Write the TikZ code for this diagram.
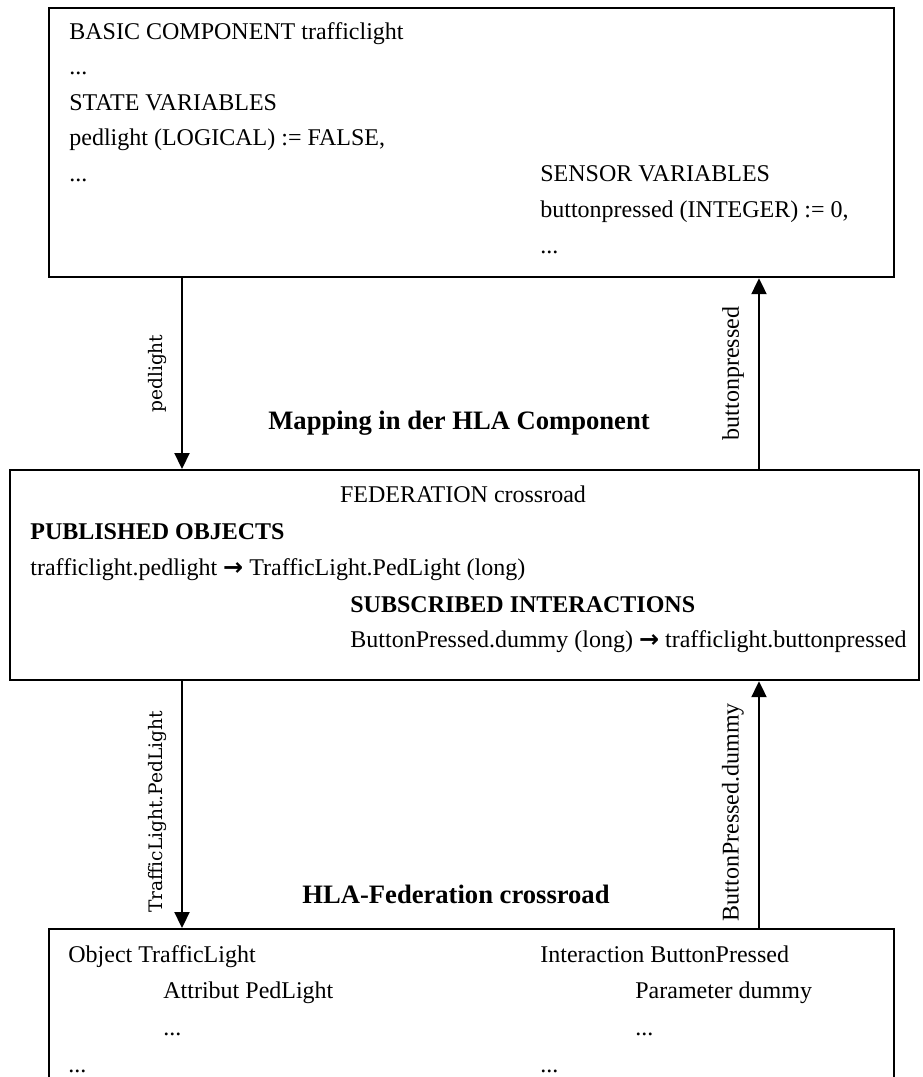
\documentclass[tikz,border=0pt]{standalone}
\usepackage{fontspec}
\setmainfont{Liberation Serif}
\newfontfamily\wideserif{DejaVu Serif}
\newfontfamily\arrowfont{DejaVu Sans}
\usetikzlibrary{arrows.meta,positioning}

\begin{document}
\begin{tikzpicture}[
  x = 0.5pt, y = -0.5pt,
  every node/.style = {inner sep = 0pt, font = \fontsize{12}{14}\selectfont},
  box/.style = {draw, line width = 1.1pt, anchor = north west},
  txt/.style = {anchor = base west},
  head/.style = {anchor = base west, font = \fontsize{12}{14}\selectfont\bfseries},
  title/.style = {anchor = base, font = \fontsize{13.3}{16}\selectfont\bfseries},
  flow/.style = {line width = 1.1pt, -{Triangle[width = 7.5pt, length = 8pt]}},
  lbl/.style = {rotate = 90, anchor = south, inner sep = 7pt},
  wide/.style = {font = \wideserif\fontsize{9.3}{11}\selectfont}
  ]
  \fill[white] (0,0) rectangle (922,1077);
  \clip (0,0) rectangle (922,1077);
  \useasboundingbox (0,0) rectangle (922,1077);

  \node[box, minimum width = 422.5pt, minimum height = 134.5pt] (basic) at (48,7) {};
  \node[box, minimum width = 454.5pt, minimum height = 105pt] (fed) at (9,469) {};
  \node[box, minimum width = 422.5pt, minimum height = 100pt] (hla) at (48,928) {};

  \coordinate (pedx) at (182,0);
  \coordinate (btnx) at (759,0);

  \draw[flow] (pedx |- basic.south) -- (pedx |- fed.north)
    node[midway, lbl, wide] (pedlbl) {pedlight};
  \draw[flow] (btnx |- fed.north) -- (btnx |- basic.south)
    node[midway, lbl] (btnlbl) {buttonpressed};
  \draw[flow] (pedx |- fed.south) -- (pedx |- hla.north)
    node[pos = .53, lbl, wide] (tllbl) {TrafficLight.PedLight};
  \draw[flow] (btnx |- hla.north) -- (btnx |- fed.south)
    node[pos = .47, lbl] (bpdlbl) {ButtonPressed.dummy};

  \node[txt] (basic1) at (69,39) {BASIC COMPONENT trafficlight};
  \node[txt] (basic2) at (69,74.5) {...};
  \node[txt] (basic3) at (69,110) {STATE VARIABLES};
  \node[txt] (basic4) at (69,145.5) {pedlight (LOGICAL) := FALSE,};
  \node[txt] (basic5) at (69,181) {...};
  \node[txt] (sensor1) at (540,181) {SENSOR VARIABLES};
  \node[txt] (sensor2) at (540,217) {buttonpressed (INTEGER) := 0,};
  \node[txt] (sensor3) at (540,253) {...};

  \node[title] (maptitle) at (459,429) {Mapping in der HLA Component};

  \node[anchor = base] (fed1) at (463,502) {FEDERATION crossroad};
  \node[head] (fed2) at (30,539) {PUBLISHED OBJECTS};
  \node[txt] (fed3) at (30,575) {trafficlight.pedlight {\arrowfont\bfseries →} TrafficLight.PedLight (long)};
  \node[head] (fed4) at (350,612) {SUBSCRIBED INTERACTIONS};
  \node[txt] (fed5) at (350,647) {ButtonPressed.dummy (long) {\arrowfont\bfseries →} trafficlight.buttonpressed};

  \node[title] (hlatitle) at (456,903) {HLA-Federation crossroad};

  \node[txt] (obj1) at (68,962) {Object TrafficLight};
  \node[txt] (obj2) at (163,998) {Attribut PedLight};
  \node[txt] (obj3) at (163,1035) {...};
  \node[txt] (obj4) at (68,1072) {...};
  \node[txt] (inter1) at (540,962) {Interaction ButtonPressed};
  \node[txt] (inter2) at (635,998) {Parameter dummy};
  \node[txt] (inter3) at (635,1035) {...};
  \node[txt] (inter4) at (540,1072) {...};
\end{tikzpicture}
\end{document}
